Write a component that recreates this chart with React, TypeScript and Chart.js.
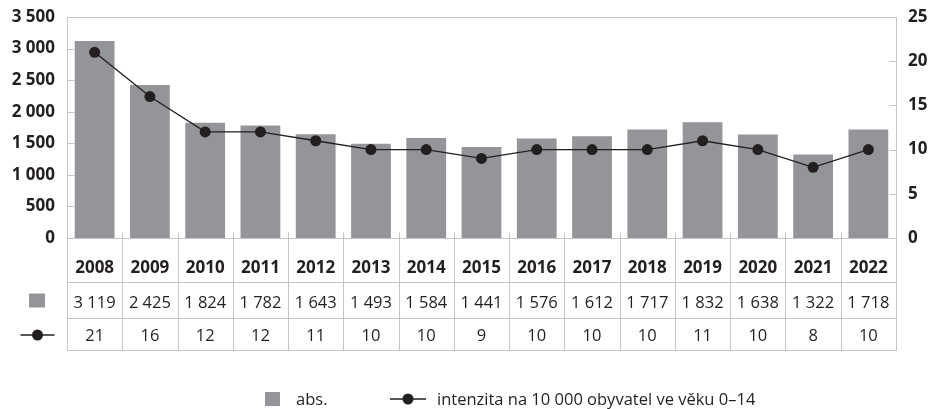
import React, { useEffect, useRef } from "react";
import { Chart, registerables } from "chart.js";

Chart.register(...registerables);

const years = ["2008", "2009", "2010", "2011", "2012", "2013", "2014", "2015", "2016", "2017", "2018", "2019", "2020", "2021", "2022"];
const absValues = [3119, 2425, 1824, 1782, 1643, 1493, 1584, 1441, 1576, 1612, 1717, 1832, 1638, 1322, 1718];
const intensityValues = [21, 16, 12, 12, 11, 10, 10, 9, 10, 10, 10, 11, 10, 8, 10];
const absLabel = "abs.";
const intensityLabel = "intenzita na 10 000 obyvatel ve věku 0–14";
const leftMax = 3500;
const leftStep = 500;
const rightMax = 25;
const rightStep = 5;

const BAR_COLOR = "#939598";
const LINE_COLOR = "#231f20";
const TEXT_COLOR = "#231f20";
const GRID_COLOR = "#c4c4c6";
const FONT = "'Open Sans', 'Noto Sans', sans-serif";

function fmt(n: number): string {
  const s = String(Math.round(n));
  return s.replace(/\B(?=(\d{3})+(?!\d))/g, " ");
}

function drawLineSymbol(ctx: CanvasRenderingContext2D, cx: number, cy: number, half: number) {
  ctx.save();
  ctx.strokeStyle = LINE_COLOR;
  ctx.lineWidth = 1.3;
  ctx.beginPath();
  ctx.moveTo(cx - half, cy);
  ctx.lineTo(cx + half, cy);
  ctx.stroke();
  ctx.fillStyle = LINE_COLOR;
  ctx.beginPath();
  ctx.arc(cx, cy, 5.5, 0, Math.PI * 2);
  ctx.fill();
  ctx.restore();
}

const framePlugin = {
  id: "frameTable",
  afterDraw(chart: any) {
    const ctx = chart.ctx as CanvasRenderingContext2D;
    const { left, right, top, bottom } = chart.chartArea;
    const yL = chart.scales.y;
    const yR = chart.scales.y1;
    const n = years.length;
    const colW = (right - left) / n;
    const L = Math.round(left) + 0.5;
    const R = Math.round(right) + 0.5;
    const T = Math.round(top) + 0.5;
    const B = Math.round(bottom) + 0.5;
    const r1 = B + 44;
    const r2 = B + 80;
    const r3 = B + 112;

    ctx.save();
    ctx.strokeStyle = GRID_COLOR;
    ctx.lineWidth = 1;
    ctx.beginPath();
    ctx.moveTo(L, T); ctx.lineTo(R, T);
    ctx.moveTo(L, T); ctx.lineTo(L, r3);
    ctx.moveTo(R, T); ctx.lineTo(R, r3);
    [B, r1, r2, r3].forEach((yy) => { ctx.moveTo(L, yy); ctx.lineTo(R, yy); });
    for (let k = 1; k < n; k++) {
      const xx = Math.round(left + k * colW) + 0.5;
      ctx.moveTo(xx, B - 6); ctx.lineTo(xx, r3);
    }
    for (let v = leftStep; v < leftMax; v += leftStep) {
      const yy = Math.round(yL.getPixelForValue(v)) + 0.5;
      ctx.moveTo(L, yy); ctx.lineTo(L + 7, yy);
    }
    for (let v = rightStep; v < rightMax; v += rightStep) {
      const yy = Math.round(yR.getPixelForValue(v)) + 0.5;
      ctx.moveTo(R, yy); ctx.lineTo(R - 7, yy);
    }
    ctx.stroke();

    ctx.fillStyle = TEXT_COLOR;
    ctx.textAlign = "center";
    ctx.textBaseline = "alphabetic";
    const x = chart.scales.x;
    years.forEach((yr, i) => {
      const cx = x.getPixelForValue(i);
      ctx.font = `bold 17px ${FONT}`;
      ctx.fillText(yr, cx, B + 34);
      ctx.font = `16.5px ${FONT}`;
      ctx.fillText(fmt(absValues[i]), cx, B + 69);
      ctx.fillText(String(intensityValues[i]), cx, B + 102);
    });

    ctx.fillStyle = BAR_COLOR;
    ctx.fillRect(29, B + 55, 16, 14);
    drawLineSymbol(ctx, 37.5, B + 96.5, 17);

    const ly = 399;
    ctx.fillStyle = BAR_COLOR;
    ctx.fillRect(265, 392, 15, 14);
    ctx.fillStyle = TEXT_COLOR;
    ctx.textAlign = "left";
    ctx.font = `16.5px ${FONT}`;
    ctx.fillText(absLabel, 296, 405);
    drawLineSymbol(ctx, 408, ly, 18);
    ctx.fillStyle = TEXT_COLOR;
    ctx.fillText(intensityLabel, 437, 405);
    ctx.restore();
  },
};

export default function App() {
  const ref = useRef<HTMLCanvasElement | null>(null);
  useEffect(() => {
    if (!ref.current) return;
    const chart = new Chart(ref.current, {
      type: "bar",
      data: {
        labels: years,
        datasets: [
          {
            type: "line",
            label: intensityLabel,
            data: intensityValues,
            yAxisID: "y1",
            borderColor: LINE_COLOR,
            backgroundColor: LINE_COLOR,
            borderWidth: 1.3,
            pointRadius: 5.5,
            pointBackgroundColor: LINE_COLOR,
            pointBorderWidth: 0,
            tension: 0,
            order: 0,
          } as any,
          {
            type: "bar",
            label: absLabel,
            data: absValues,
            yAxisID: "y",
            backgroundColor: BAR_COLOR,
            borderWidth: 0,
            categoryPercentage: 1,
            barPercentage: 0.72,
            order: 1,
          },
        ],
      },
      options: {
        responsive: false,
        animation: false,
        devicePixelRatio: 1,
        layout: { padding: { top: 17, bottom: 171, left: 0, right: 0 } },
        plugins: { legend: { display: false }, tooltip: { enabled: false } },
        scales: {
          x: { display: false, offset: true },
          y: {
            position: "left",
            min: 0,
            max: leftMax,
            grid: { display: false, drawTicks: true, tickLength: 8 },
            border: { display: false },
            ticks: {
              stepSize: leftStep,
              padding: 4,
              color: TEXT_COLOR,
              font: { family: FONT, size: 17, weight: "bold" },
              callback: (v: any) => fmt(Number(v)),
            },
            afterFit: (s: any) => { s.width = 67; },
          },
          y1: {
            position: "right",
            min: 0,
            max: rightMax,
            grid: { display: false, drawTicks: true, tickLength: 8 },
            border: { display: false },
            ticks: {
              stepSize: rightStep,
              padding: 4,
              color: TEXT_COLOR,
              font: { family: FONT, size: 17, weight: "bold" },
            },
            afterFit: (s: any) => { s.width = 33; },
          },
        },
      } as any,
      plugins: [framePlugin],
    });
    return () => chart.destroy();
  }, []);
  return (
    <div style={{ position: "fixed", left: 0, top: 0, width: 929, height: 409, background: "#fff" }}>
      <canvas ref={ref} width={929} height={409} style={{ display: "block", width: 929, height: 409 }} />
    </div>
  );
}
